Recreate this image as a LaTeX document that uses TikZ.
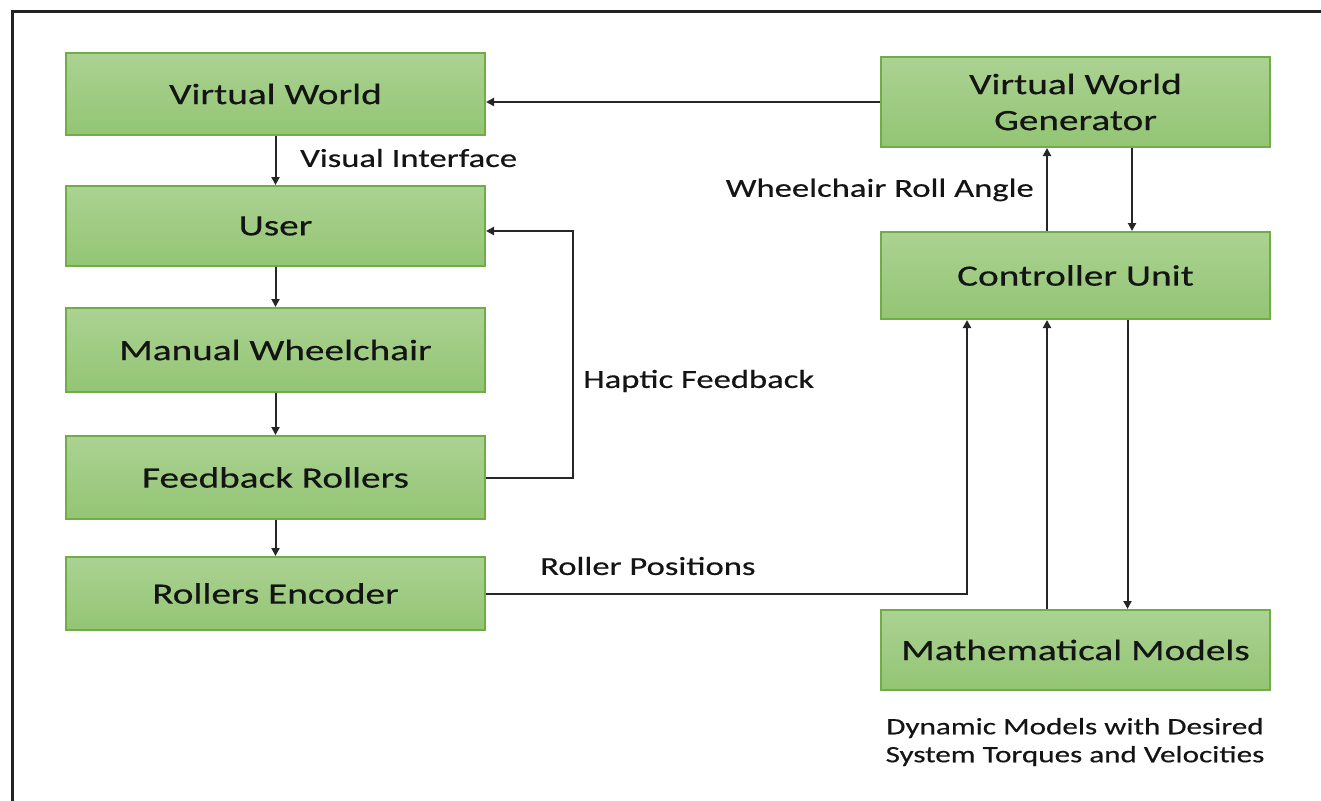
\documentclass[tikz,border=0pt]{standalone}
\usepackage{fontspec}
\setmainfont{Carlito}[FakeStretch=1.33,FakeBold=0.4]
\usetikzlibrary{arrows.meta}
\definecolor{boxtop}{RGB}{171,210,146}
\definecolor{boxbot}{RGB}{147,197,116}
\definecolor{boxline}{RGB}{112,173,71}
\definecolor{framec}{RGB}{35,35,35}
\definecolor{txt}{RGB}{20,20,20}
\begin{document}
\begin{tikzpicture}[x=1pt,y=-1pt,
  blk/.style={draw=boxline,line width=2pt,top color=boxtop,bottom color=boxbot,
    minimum width=#1,inner sep=0pt,font=\fontsize{29.5}{34}\selectfont,text=txt,align=center},
  blk/.default=419pt,
  lbl/.style={inner sep=0pt,font=\fontsize{26}{31}\selectfont,text=txt},
  arr/.style={draw=black!85,line width=2pt,-{Triangle[length=8pt,width=8pt]}},
  ln/.style={draw=black!85,line width=2pt}]
\useasboundingbox (0,0) rectangle (1321,800);
\fill[white] (0,0) rectangle (1321,800);
\draw[framec,line width=3pt] (12,801) -- (12,12) -- (1322,12);

% left column
\node[blk,minimum height=82pt] (vw) at (275.5,94) {Virtual World};
\node[blk,minimum height=80pt] (user) at (275.5,226) {User};
\node[blk,minimum height=84pt] (mw) at (275.5,350) {Manual Wheelchair};
\node[blk,minimum height=83pt] (fr) at (275.5,477.5) {Feedback Rollers};
\node[blk,minimum height=73pt] (re) at (275.5,593.5) {Rollers Encoder};

% right column
\node[blk=389pt,minimum height=90pt,font=\fontsize{29.5}{36}\selectfont] (vwg) at (1075.5,102) {Virtual World\\Generator};
\node[blk=389pt,minimum height=87pt] (cu) at (1075.5,275.5) {Controller Unit};
\node[blk=389pt,minimum height=80pt] (mm) at (1075.5,650) {Mathematical Models};

% labels
\node[lbl,anchor=west] (lvi) at (300,158) {Visual Interface};
\node[lbl,anchor=east] (lwr) at (1034,190) {Wheelchair Roll Angle};
\node[lbl,anchor=west] (lhf) at (583,381) {Haptic Feedback};
\node[lbl,anchor=west] (lrp) at (540,566) {Roller Positions};
\node[inner sep=0pt,font=\fontsize{23.4}{28}\selectfont,text=txt,align=center] (cap) at (1075,742)
  {Dynamic Models with Desired\\System Torques and Velocities};

% connectors
\draw[arr] (vwg.west) -- (vwg.west -| vw.east);
\draw[arr] (vw.south) -- (user.north);
\draw[arr] (user.south) -- (mw.north);
\draw[arr] (mw.south) -- (fr.north);
\draw[arr] (fr.south) -- (re.north);
\draw[arr] (fr.east) -- ++(87,0) |- ([yshift=-5pt]user.east);
\draw[arr] (re.east) -| ([xshift=-108.5pt]cu.south);
\draw[arr] ([xshift=-28.5pt]cu.north) -- ([xshift=-28.5pt]vwg.south);
\draw[arr] ([xshift=56.5pt]vwg.south) -- ([xshift=56.5pt]cu.north);
\draw[arr] ([xshift=-28.5pt]mm.north) -- ([xshift=-28.5pt]cu.south);
\draw[arr] ([xshift=52pt]cu.south) -- ([xshift=52pt]mm.north);
\end{tikzpicture}
\end{document}
